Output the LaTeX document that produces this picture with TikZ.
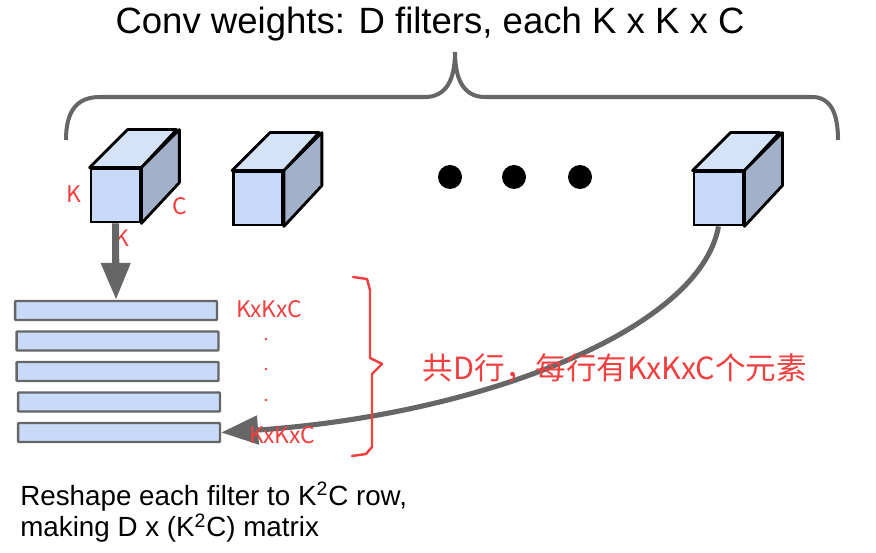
\documentclass[tikz,border=0pt]{standalone}
\usepackage{fontspec}
\setmainfont{Liberation Sans}
\newfontfamily\cjk{Noto Sans CJK SC}
\usepackage{xcolor}
\usetikzlibrary{arrows.meta}
\definecolor{face-front}{HTML}{C9DAF8}
\definecolor{face-top}{HTML}{D5E3F9}
\definecolor{face-side}{HTML}{A2B1C9}
\definecolor{line-gray}{HTML}{666666}
\definecolor{note-red}{HTML}{F23F3F}

\begin{document}
\begin{tikzpicture}[x=0.02cm, y=-0.02cm,
    cubefront/.style={draw=black, line width=1.6pt, fill=face-front,
      minimum width=0.98cm, minimum height=1.06cm, inner sep=0pt},
    cubetop/.style={draw=black, line width=1.6pt, fill=face-top, line join=round},
    cubeside/.style={draw=black, line width=1.6pt, fill=face-side, line join=round},
    rowbar/.style={draw=line-gray, line width=1.4pt, fill=face-front, rounded corners=0.5pt,
      minimum width=4.04cm, minimum height=0.38cm, inner sep=0pt},
    redlabel/.style={text=note-red, font=\cjk\fontsize{13}{15}\selectfont, inner sep=0pt},
    bigarrow/.style={-{Triangle[length=21pt, width=16pt]}, draw=line-gray, color=line-gray}]
    \useasboundingbox (0,0) rectangle (876,553);

    \node[font=\fontsize{20.8}{24}\selectfont, inner sep=0pt] (title) at (430,24)
      {Conv weights: D filters, each K x K x C};
    \draw[line-gray, line width=2.3pt] (66,140) .. controls (66,112) and (76,97) .. (100,97)
      -- (425,97) .. controls (446,97) and (455,80) .. (455,52)
      .. controls (455,80) and (464,97) .. (485,97) -- (812,97)
      .. controls (830,97) and (838,112) .. (838,140);

    \node[cubefront] (cube1) at (115.5,195.5) {};
    \draw[cubetop] (cube1.north west) -- ++(38,-38) -- ++(49,0) -- (cube1.north east) -- cycle;
    \draw[cubeside] (cube1.north east) -- ++(38,-38) -- ++(0,53) -- (cube1.south east) -- cycle;
    \node[cubefront] (cube2) at (258,198.5) {};
    \draw[cubetop] (cube2.north west) -- ++(38,-38) -- ++(49,0) -- (cube2.north east) -- cycle;
    \draw[cubeside] (cube2.north east) -- ++(38,-38) -- ++(0,53) -- (cube2.south east) -- cycle;
    \node[cubefront] (cube3) at (718.5,198.5) {};
    \draw[cubetop] (cube3.north west) -- ++(38,-38) -- ++(49,0) -- (cube3.north east) -- cycle;
    \draw[cubeside] (cube3.north east) -- ++(38,-38) -- ++(0,53) -- (cube3.south east) -- cycle;

    \fill[black] (450,177) circle (12) (514,177) circle (12) (580,177) circle (12);

    \node[redlabel] (kleft) at (74,194) {K};
    \node[redlabel] (cright) at (180,206) {C};
    \node[redlabel] (kbottom) at (122,238) {K};

    \node[rowbar] (row1) at (116,310.5) {};
    \node[rowbar] (row2) at (117.5,341) {};
    \node[rowbar] (row3) at (117.5,371.5) {};
    \node[rowbar] (row4) at (119,402) {};
    \node[rowbar] (row5) at (119,432.5) {};

    \draw[bigarrow, line width=4pt] (cube1.south) -- (row1.north);
    \draw[bigarrow, line width=2.9pt] (cube3.south) .. controls (700,330) and (480,415) .. (row5.east);

    \node[redlabel] (firstrow) at (269,309) {KxKxC};
    \fill[note-red] (266,339) circle (1.4) (266,369) circle (1.4) (266,400) circle (1.4);
    \node[redlabel] (lastrow) at (282,435) {KxKxC};

    \draw[note-red, line width=1.4pt, line join=round, line cap=round]
      (353,277) -- (367,279) -- (370,290) -- (370,358) -- (382,364) -- (372,374)
      -- (372,447) -- (366,454) -- (352,456);
    \node[redlabel, font=\cjk\fontsize{17.4}{20}\selectfont] (rowcount) at (615,368)
      {共D行，每行有KxKxC个元素};

    \node[anchor=north west, align=left, inner sep=0pt,
      font=\fontsize{15.8}{17.8}\selectfont] (caption) at (20,482)
      {Reshape each filter to K\textsuperscript{2}C row,\\making D x (K\textsuperscript{2}C) matrix};
  \end{tikzpicture}
\end{document}
